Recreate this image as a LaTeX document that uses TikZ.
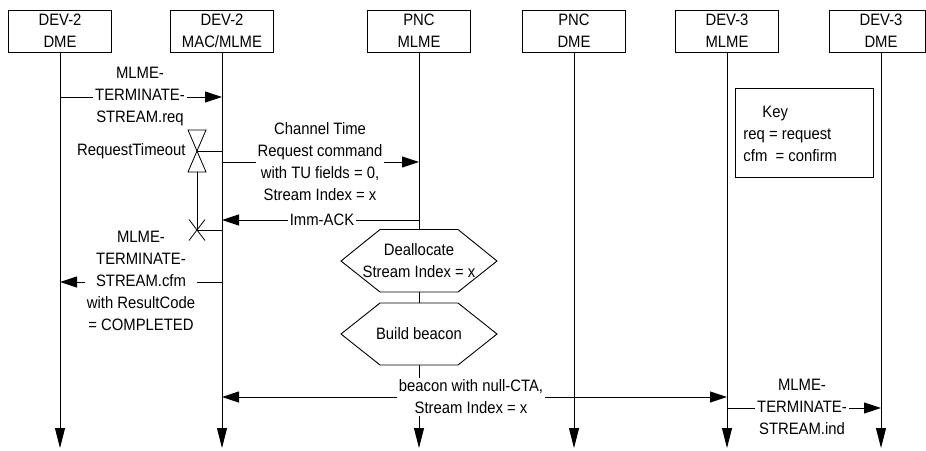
\documentclass[tikz,border=0pt]{standalone}
\usepackage{fontspec}
\setmainfont[FakeStretch=0.9]{Liberation Sans}
\usetikzlibrary{arrows.meta}
\begin{document}
\begin{tikzpicture}[x=1pt,y=-1pt,
  font=\fontsize{16.5}{22}\selectfont,
  line width=0.9pt,
  hdr/.style={draw, minimum width=103pt, minimum height=42pt, align=center, inner sep=0pt},
  life/.style={-{Triangle[length=20pt,width=10pt]}},
  msg/.style={-{Triangle[length=17pt,width=11pt]}},
  dmsg/.style={{Triangle[length=17pt,width=11pt]}-{Triangle[length=17pt,width=11pt]}},
  lbl/.style={fill=white, align=center, inner sep=2pt},
  hexa/.style={draw, fill=white},
  timer/.style={line width=0.8pt}]
\useasboundingbox (0,0) rectangle (926,450);

% header boxes
\node[hdr] (h1) at (60,31) {DEV-2\\DME};
\node[hdr] (h2) at (222,31) {DEV-2\\MAC/MLME};
\node[hdr] (h3) at (419,31) {PNC\\MLME};
\node[hdr] (h4) at (574,31) {PNC\\DME};
\node[hdr] (h5) at (727,31) {DEV-3\\MLME};
\node[hdr, minimum width=96.5pt] (h6) at (877.5,31) {\hspace*{7pt}DEV-3\\\hspace*{7pt}DME};

% lifelines
\coordinate (bot) at (0,448);
\coordinate (h6s) at (881,52);
\draw[life] (h1.south) -- (h1.south |- bot);
\draw[life] (h2.south) -- (h2.south |- bot);
\draw[life] (h3.south) -- (h3.south |- bot);
\draw[life] (h4.south) -- (h4.south |- bot);
\draw[life] (h5.south) -- (h5.south |- bot);
\draw[life] (h6s) -- (h6s |- bot);

% MLME-TERMINATE-STREAM.req
\coordinate (r1) at (60,97);
\coordinate (r2) at (222,97);
\draw[msg] (r1) -- (r2);
\node[lbl] (treq) at (140,97) {MLME-\\TERMINATE-\\STREAM.req};

% Channel Time Request command
\coordinate (c2) at (222,162);
\coordinate (c3) at (419,162);
\draw[msg] (c2) -- (c3);
\node[lbl] (tctr) at (320,161.5) {Channel Time\\Request command\\with TU fields = 0,\\Stream Index = x};

% Imm-ACK
\coordinate (k3) at (419,220);
\coordinate (k2) at (222,220);
\draw[msg] (k3) -- (k2);
\node[lbl] (tack) at (322,220) {Imm-ACK};

% MLME-TERMINATE-STREAM.cfm
\coordinate (f2) at (222,282);
\coordinate (f1) at (60,282);
\draw[msg] (f2) -- (f1);
\node[lbl] (tcfm) at (141,281) {MLME-\\TERMINATE-\\STREAM.cfm\\with ResultCode\\= COMPLETED};

% timer
\coordinate (tm) at (197,151);
\coordinate (tmr) at (222,151);
\coordinate (tmb) at (197,172);
\coordinate (tx) at (197,230);
\coordinate (txr) at (222,230);
\draw[timer] (188,130) -- (206,130) -- (tm) -- cycle;
\draw[timer] (tm) -- (188,172) -- (206,172) -- cycle;
\draw[timer] (tm) -- (tmr);
\draw[timer] (tmb) -- (tx) -- (txr);
\draw[timer] (189,219.5) -- (205,240.5)
             (189,240.5) -- (205,219.5);
\node[anchor=east, inner sep=0pt] (trt) at (186,151) {RequestTimeout};

% hexagons
\draw[hexa] (341,261) -- (380,229.5) -- (458,229.5) -- (497,261) -- (458,292) -- (380,292) -- cycle;
\node[align=center, inner sep=0pt] (hdea) at (419,261) {Deallocate\\Stream Index = x};
\draw[hexa] (341,334) -- (380,303) -- (458,303) -- (497,334) -- (458,365) -- (380,365) -- cycle;
\node[align=center, inner sep=0pt] (hbui) at (419,334) {Build beacon};

% beacon
\coordinate (b2) at (222,397);
\coordinate (b5) at (727,397);
\draw[dmsg] (b2) -- (b5);
\node[lbl] (tbea) at (471,397) {beacon with null-CTA,\\Stream Index = x};

% MLME-TERMINATE-STREAM.ind
\coordinate (i5) at (727,408);
\coordinate (i6) at (881,408);
\draw[msg] (i5) -- (i6);
\node[lbl] (tind) at (802,407) {MLME-\\TERMINATE-\\STREAM.ind};

% key
\node[draw, minimum width=138pt, minimum height=89pt, anchor=north west, inner sep=0pt] (key) at (735,88) {};
\node[anchor=west, align=left, inner sep=0pt] (keytxt) at (743,133.5) {\hspace*{19pt}Key\\req = request\\cfm\ \ = confirm};
\end{tikzpicture}
\end{document}
